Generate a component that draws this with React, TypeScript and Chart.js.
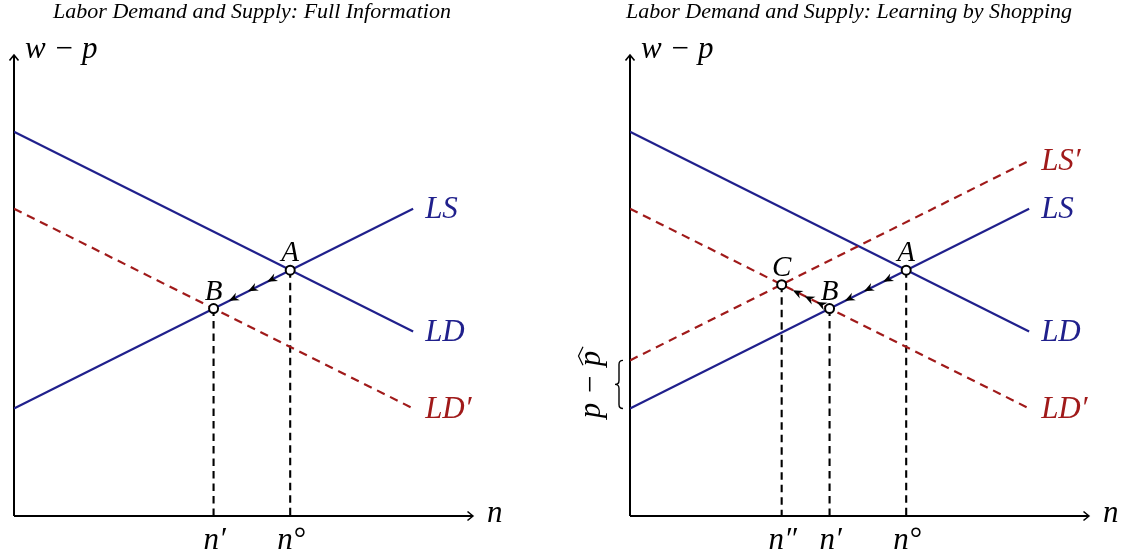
import React, { useEffect, useRef } from "react";
import { Chart, registerables } from "chart.js";

Chart.register(...registerables);

// ---------------- data ----------------
const nEnds = [0, 10];
const ldValues = [10, 4.8];
const lsValues = [2.8, 8.0];
const ldPrimeValues = [8.0, 2.8];
const lsPrimeValues = [4.05, 9.25];

const eqNames = ["A", "B", "C"];
const eqN = [6.92, 5.0, 3.8];
const eqW = [6.4, 5.4, 6.02];

const leftTickLabels = ["n′", "n°"];
const rightTickLabels = ["n″", "n′", "n°"];

const axisMaxN = 11.5;
const axisMaxW = 12;

const leftTitle = "Labor Demand and Supply: Full Information";
const rightTitle = "Labor Demand and Supply: Learning by Shopping";

// ---------------- styles ----------------
const BLUE = "rgb(32,32,140)";
const RED = "rgb(160,26,26)";
const SERIF = '"Liberation Serif", "DejaVu Serif", serif';
const TITLE_FONT = `italic 22px ${SERIF}`;
const CURVE_FONT = `italic 31px ${SERIF}`;
const POINT_FONT = `italic 29px ${SERIF}`;
const MATH_FONT = `italic 31px ${SERIF}`;

type Curve = { name: string; values: number[]; color: string; dashed: boolean };
type Panel = {
  curves: Curve[];
  eq: number[];
  ticks: { label: string; eq: number }[];
  arrows: { from: number; to: number; fracs: number[] }[];
  title: string;
  titleX: number;
  brace: boolean;
  width: number;
  padLeft: number;
};

const leftPanel: Panel = {
  curves: [
    { name: "LS", values: lsValues, color: BLUE, dashed: false },
    { name: "LD", values: ldValues, color: BLUE, dashed: false },
    { name: "LD′", values: ldPrimeValues, color: RED, dashed: true },
  ],
  eq: [0, 1],
  ticks: [
    { label: leftTickLabels[0], eq: 1 },
    { label: leftTickLabels[1], eq: 0 },
  ],
  arrows: [{ from: 0, to: 1, fracs: [0.3, 0.55, 0.8] }],
  title: leftTitle,
  titleX: 252,
  brace: false,
  width: 563,
  padLeft: 14,
};

const rightPanel: Panel = {
  curves: [
    { name: "LS′", values: lsPrimeValues, color: RED, dashed: true },
    { name: "LS", values: lsValues, color: BLUE, dashed: false },
    { name: "LD", values: ldValues, color: BLUE, dashed: false },
    { name: "LD′", values: ldPrimeValues, color: RED, dashed: true },
  ],
  eq: [0, 1, 2],
  ticks: [
    { label: rightTickLabels[0], eq: 2 },
    { label: rightTickLabels[1], eq: 1 },
    { label: rightTickLabels[2], eq: 0 },
  ],
  arrows: [
    { from: 0, to: 1, fracs: [0.3, 0.55, 0.8] },
    { from: 1, to: 2, fracs: [0.27, 0.52, 0.77] },
  ],
  title: rightTitle,
  titleX: 286,
  brace: true,
  width: 564,
  padLeft: 67,
};

function stealth(ctx: CanvasRenderingContext2D, x: number, y: number, ang: number) {
  const len = 10;
  const half = 4.2;
  ctx.save();
  ctx.translate(x, y);
  ctx.rotate(ang);
  ctx.beginPath();
  ctx.moveTo(0, 0);
  ctx.lineTo(-len, -half);
  ctx.lineTo(-len * 0.68, 0);
  ctx.lineTo(-len, half);
  ctx.closePath();
  ctx.fill();
  ctx.restore();
}

function chevron(ctx: CanvasRenderingContext2D, x: number, y: number, ang: number) {
  ctx.save();
  ctx.translate(x, y);
  ctx.rotate(ang);
  ctx.beginPath();
  ctx.moveTo(-5.5, -4.5);
  ctx.quadraticCurveTo(-1.5, -1.2, 0, 0);
  ctx.quadraticCurveTo(-1.5, 1.2, -5.5, 4.5);
  ctx.lineWidth = 1.6;
  ctx.stroke();
  ctx.restore();
}

function makePlugin(panel: Panel) {
  return {
    id: "econ",
    beforeDatasetsDraw(chart: any) {
      const ctx: CanvasRenderingContext2D = chart.ctx;
      const xs = chart.scales.x;
      const ys = chart.scales.y;
      const x0 = xs.getPixelForValue(0);
      const y0 = ys.getPixelForValue(0);
      const xE = xs.getPixelForValue(axisMaxN);
      const yE = ys.getPixelForValue(axisMaxW);
      ctx.save();
      ctx.strokeStyle = "#000";
      ctx.fillStyle = "#000";
      ctx.lineWidth = 2;
      ctx.beginPath();
      ctx.moveTo(x0, y0);
      ctx.lineTo(xE, y0);
      ctx.moveTo(x0, y0);
      ctx.lineTo(x0, yE);
      ctx.stroke();
      chevron(ctx, xE, y0, 0);
      chevron(ctx, x0, yE, -Math.PI / 2);
      ctx.restore();
    },
    afterDatasetsDraw(chart: any) {
      const ctx: CanvasRenderingContext2D = chart.ctx;
      const xs = chart.scales.x;
      const ys = chart.scales.y;
      const px = (v: number) => xs.getPixelForValue(v);
      const py = (v: number) => ys.getPixelForValue(v);
      const x0 = px(0);
      const y0 = py(0);
      ctx.save();

      // title
      ctx.fillStyle = "#000";
      ctx.font = TITLE_FONT;
      ctx.textAlign = "center";
      ctx.textBaseline = "alphabetic";
      ctx.fillText(panel.title, panel.titleX, 18);

      // axis labels
      ctx.font = MATH_FONT;
      ctx.textAlign = "left";
      ctx.fillText("w − p", x0 + 11, py(axisMaxW) + 3);
      ctx.fillText("n", px(axisMaxN) + 14, y0 + 6);

      // curve labels
      ctx.font = CURVE_FONT;
      ctx.textAlign = "left";
      ctx.textBaseline = "middle";
      for (const c of panel.curves) {
        ctx.fillStyle = c.color;
        ctx.fillText(c.name, px(nEnds[1]) + 12, py(c.values[1]) + 1);
      }

      // arrows along the adjustment path
      ctx.fillStyle = "#000";
      for (const a of panel.arrows) {
        const fx = px(eqN[a.from]);
        const fy = py(eqW[a.from]);
        const tx = px(eqN[a.to]);
        const ty = py(eqW[a.to]);
        const ang = Math.atan2(ty - fy, tx - fx);
        for (const f of a.fracs) {
          stealth(ctx, fx + (tx - fx) * f, fy + (ty - fy) * f, ang);
        }
      }

      // point labels
      ctx.font = POINT_FONT;
      ctx.textAlign = "center";
      ctx.textBaseline = "alphabetic";
      for (const i of panel.eq) {
        ctx.fillText(eqNames[i], px(eqN[i]), py(eqW[i]) - 9);
      }

      // tick labels
      ctx.font = MATH_FONT;
      for (const t of panel.ticks) {
        ctx.fillText(t.label, px(eqN[t.eq]) + 1, y0 + 33);
      }

      // brace with p - p^ label
      if (panel.brace) {
        const yTop = py(lsPrimeValues[0]);
        const yBot = py(lsValues[0]);
        const bx = x0 - 7;
        const w = 8;
        const ym = (yTop + yBot) / 2;
        ctx.strokeStyle = "#000";
        ctx.lineWidth = 1.4;
        ctx.beginPath();
        ctx.moveTo(bx, yTop);
        ctx.quadraticCurveTo(bx - w / 2, yTop, bx - w / 2, yTop + w / 2);
        ctx.lineTo(bx - w / 2, ym - w / 2);
        ctx.quadraticCurveTo(bx - w / 2, ym, bx - w, ym);
        ctx.quadraticCurveTo(bx - w / 2, ym, bx - w / 2, ym + w / 2);
        ctx.lineTo(bx - w / 2, yBot - w / 2);
        ctx.quadraticCurveTo(bx - w / 2, yBot, bx, yBot);
        ctx.stroke();

        ctx.save();
        ctx.translate(bx - w - 22, ym);
        ctx.rotate(-Math.PI / 2);
        ctx.font = MATH_FONT;
        ctx.textAlign = "left";
        ctx.textBaseline = "alphabetic";
        const t1 = "p − ";
        const t2 = "p";
        const w1 = ctx.measureText(t1).width;
        const w2 = ctx.measureText(t2).width;
        const start = -(w1 + w2) / 2;
        ctx.fillText(t1 + t2, start, 7);
        const hx = start + w1 + 1;
        ctx.lineWidth = 1.2;
        ctx.beginPath();
        ctx.moveTo(hx, -10);
        ctx.lineTo(hx + w2 / 2 + 1.5, -14.5);
        ctx.lineTo(hx + w2 + 3, -10);
        ctx.stroke();
        ctx.restore();
      }
      ctx.restore();
    },
  };
}

function buildConfig(panel: Panel): any {
  const datasets: any[] = [];
  datasets.push({
    type: "scatter",
    data: panel.eq.map((i) => ({ x: eqN[i], y: eqW[i] })),
    pointRadius: 4.5,
    pointBorderWidth: 2,
    pointBackgroundColor: "#fff",
    pointBorderColor: "#000",
    showLine: false,
    order: 0,
  });
  for (const c of panel.curves) {
    datasets.push({
      type: "line",
      data: nEnds.map((x, k) => ({ x, y: c.values[k] })),
      borderColor: c.color,
      borderWidth: 2.2,
      borderDash: c.dashed ? [8.5, 6] : [],
      pointRadius: 0,
      fill: false,
      order: 1,
    });
  }
  for (const i of panel.eq) {
    datasets.push({
      type: "line",
      data: [
        { x: eqN[i], y: eqW[i] },
        { x: eqN[i], y: 0 },
      ],
      borderColor: "#000",
      borderWidth: 2.1,
      borderDash: [7.5, 5],
      pointRadius: 0,
      fill: false,
      order: 2,
    });
  }
  return {
    type: "line",
    data: { datasets },
    options: {
      animation: false,
      responsive: false,
      events: [],
      layout: {
        padding: { left: panel.padLeft, right: panel.width - panel.padLeft - 459, top: 55, bottom: 42 },
      },
      scales: {
        x: { type: "linear", min: 0, max: axisMaxN, display: false },
        y: { type: "linear", min: 0, max: axisMaxW, display: false },
      },
      plugins: { legend: { display: false }, tooltip: { enabled: false }, title: { display: false } },
    },
    plugins: [makePlugin(panel)],
  };
}

function PanelChart({ panel, left }: { panel: Panel; left: number }) {
  const ref = useRef<HTMLCanvasElement | null>(null);
  useEffect(() => {
    if (!ref.current) return;
    const chart = new Chart(ref.current, buildConfig(panel));
    return () => chart.destroy();
  }, [panel]);
  return (
    <canvas
      ref={ref}
      width={panel.width}
      height={558}
      style={{ position: "absolute", left, top: 0, width: panel.width, height: 558 }}
    />
  );
}

export default function App() {
  return (
    <div style={{ position: "absolute", left: 0, top: 0, width: 1127, height: 558, background: "#fff", overflow: "hidden" }}>
      <PanelChart panel={leftPanel} left={0} />
      <PanelChart panel={rightPanel} left={563} />
    </div>
  );
}
